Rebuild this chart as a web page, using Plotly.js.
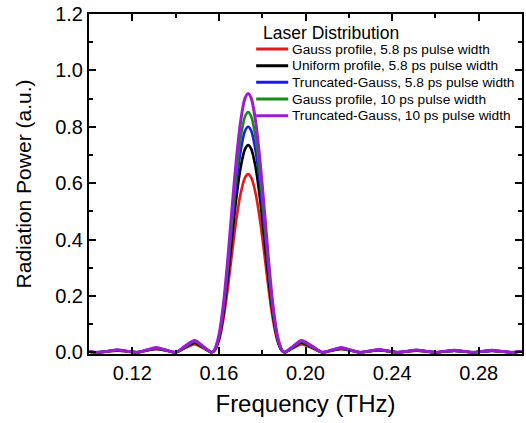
<!DOCTYPE html>
<html>
<head>
<meta charset="utf-8">
<script src="https://cdn.plot.ly/plotly-3.0.1.min.js"></script>
<style>html,body{margin:0;padding:0;background:#fff;}#chart{width:526px;height:423px;}</style>
</head>
<body>
<div id="chart"></div>
<script>
// Frequency samples (THz)
const freq = [
  0.100, 0.104, 0.1087, 0.113, 0.1176, 0.1222, 0.1266, 0.131, 0.1355, 0.140, 0.1444, 0.1488, 0.1527, 0.1566,
  0.158, 0.160, 0.162, 0.164, 0.166, 0.168, 0.170, 0.172, 0.1735, 0.175, 0.177, 0.179, 0.181, 0.183, 0.185, 0.187, 0.189,
  0.1904, 0.1943, 0.1982, 0.2030, 0.2078, 0.2122, 0.2165, 0.2208, 0.2252, 0.2296, 0.2339, 0.2382, 0.2426, 0.2470,
  0.2513, 0.2556, 0.2600, 0.2644, 0.2687, 0.2730, 0.2774, 0.2818, 0.2861, 0.2904, 0.2948, 0.300
];

const legendTitle = "Laser Distribution";
const seriesNames = [
  "Gauss profile, 5.8 ps pulse width",
  "Uniform profile, 5.8 ps pulse width",
  "Truncated-Gauss, 5.8 ps pulse width",
  "Gauss profile, 10 ps pulse width",
  "Truncated-Gauss, 10 ps pulse width"
];

const gauss58 = [
  0.002, 0, 0.003, 0.006, 0.003, 0, 0.006, 0.011, 0.006, 0, 0.015, 0.029, 0.015, 0,
  0.006, 0.041, 0.114, 0.221, 0.348, 0.468, 0.562, 0.619, 0.632, 0.619, 0.562, 0.468, 0.348, 0.221, 0.114, 0.041, 0.006,
  0, 0.015, 0.029, 0.015, 0, 0.006, 0.011, 0.006, 0, 0.003, 0.007, 0.003, 0, 0.003,
  0.006, 0.003, 0, 0.003, 0.005, 0.003, 0, 0.003, 0.005, 0.003, 0, 0.003
];
const uniform58 = [
  0.002, 0, 0.004, 0.007, 0.004, 0, 0.007, 0.013, 0.007, 0, 0.018, 0.034, 0.018, 0,
  0.007, 0.048, 0.132, 0.257, 0.404, 0.544, 0.654, 0.720, 0.735, 0.720, 0.654, 0.544, 0.404, 0.257, 0.132, 0.048, 0.007,
  0, 0.018, 0.034, 0.018, 0, 0.007, 0.013, 0.007, 0, 0.004, 0.008, 0.004, 0, 0.003,
  0.007, 0.003, 0, 0.003, 0.006, 0.003, 0, 0.003, 0.006, 0.003, 0, 0.003
];
const truncGauss58 = [
  0.002, 0, 0.004, 0.008, 0.004, 0, 0.007, 0.014, 0.007, 0, 0.019, 0.037, 0.019, 0,
  0.008, 0.052, 0.144, 0.280, 0.440, 0.592, 0.712, 0.784, 0.800, 0.784, 0.712, 0.592, 0.440, 0.280, 0.144, 0.052, 0.008,
  0, 0.019, 0.037, 0.019, 0, 0.007, 0.014, 0.007, 0, 0.004, 0.009, 0.004, 0, 0.004,
  0.007, 0.004, 0, 0.003, 0.006, 0.003, 0, 0.003, 0.006, 0.003, 0, 0.003
];
const gauss10 = [
  0.003, 0, 0.004, 0.008, 0.004, 0, 0.008, 0.015, 0.008, 0, 0.020, 0.039, 0.020, 0,
  0.009, 0.055, 0.153, 0.298, 0.469, 0.630, 0.758, 0.835, 0.852, 0.835, 0.758, 0.630, 0.469, 0.298, 0.153, 0.055, 0.009,
  0, 0.020, 0.039, 0.020, 0, 0.008, 0.015, 0.008, 0, 0.005, 0.009, 0.005, 0, 0.004,
  0.008, 0.004, 0, 0.003, 0.007, 0.003, 0, 0.003, 0.007, 0.003, 0, 0.003
];
const truncGauss10 = [
  0.003, 0, 0.004, 0.009, 0.004, 0, 0.008, 0.017, 0.008, 0, 0.022, 0.042, 0.022, 0,
  0.009, 0.060, 0.165, 0.321, 0.505, 0.679, 0.817, 0.900, 0.918, 0.900, 0.817, 0.679, 0.505, 0.321, 0.165, 0.060, 0.009,
  0, 0.022, 0.042, 0.022, 0, 0.008, 0.017, 0.008, 0, 0.005, 0.010, 0.005, 0, 0.004,
  0.008, 0.004, 0, 0.004, 0.007, 0.004, 0, 0.004, 0.007, 0.004, 0, 0.004
];

const xTickVals = [0.12, 0.16, 0.20, 0.24, 0.28];
const xTickText = ["0.12", "0.16", "0.20", "0.24", "0.28"];
const yTickVals = [0, 0.2, 0.4, 0.6, 0.8, 1.0, 1.2];
const yTickText = ["0.0", "0.2", "0.4", "0.6", "0.8", "1.0", "1.2"];

const allSeries = [gauss58, uniform58, truncGauss58, gauss10, truncGauss10];
const colors = ["#e41a1a", "#000000", "#1a1aee", "#1a8a1a", "#9a1ecf"];
const widths = [2.6, 2.6, 2.6, 2.6, 3];

const traces = allSeries.map((ys, i) => ({
  x: freq, y: ys, name: seriesNames[i], type: "scatter", mode: "lines",
  line: {color: colors[i], width: widths[i], shape: "spline", smoothing: 0.8}
}));

const font = "Liberation Sans, Arial, sans-serif";

// Compact legend (sample line + label per series), placed in paper coordinates
const legX0 = 0.386, legX1 = 0.460, legTextX = 0.465, legTop = 0.897, legStep = 0.049;
const shapes = seriesNames.map((n, i) => ({
  type: "line", xref: "paper", yref: "paper",
  x0: legX0, x1: legX1, y0: legTop - i * legStep, y1: legTop - i * legStep,
  line: {color: colors[i], width: 3}
}));
const annotations = [{
  text: legendTitle, xref: "paper", yref: "paper", x: 0.397, y: 0.944,
  xanchor: "left", yanchor: "middle", showarrow: false,
  font: {family: font, size: 17.5, color: "#000"}
}].concat(seriesNames.map((n, i) => ({
  text: n, xref: "paper", yref: "paper", x: legTextX, y: legTop - i * legStep,
  xanchor: "left", yanchor: "middle", showarrow: false,
  font: {family: font, size: 13.7, color: "#000"}
})));

const layout = {
  width: 526, height: 423,
  margin: {l: 89, r: 4, t: 14, b: 69},
  paper_bgcolor: "#fff", plot_bgcolor: "#fff",
  font: {family: font, color: "#000"},
  showlegend: false,
  shapes: shapes,
  annotations: annotations,
  xaxis: {
    range: [0.10, 0.30], tickmode: "array", tickvals: xTickVals, ticktext: xTickText,
    ticks: "inside", ticklen: 7, tickwidth: 2, tickcolor: "#000",
    minor: {dtick: 0.02, tick0: 0.10, ticks: "inside", ticklen: 4, tickwidth: 2, tickcolor: "#000"},
    showline: true, linecolor: "#000", linewidth: 2, mirror: "allticks",
    showgrid: false, zeroline: false,
    tickfont: {family: font, size: 20, color: "#000"},
    title: {text: "Frequency (THz)", font: {family: font, size: 24, color: "#000"}, standoff: 12}
  },
  yaxis: {
    range: [-0.006, 1.2], tickmode: "array", tickvals: yTickVals, ticktext: yTickText,
    ticks: "inside", ticklen: 7, tickwidth: 2, tickcolor: "#000",
    minor: {dtick: 0.1, tick0: 0, ticks: "inside", ticklen: 4, tickwidth: 2, tickcolor: "#000"},
    showline: true, linecolor: "#000", linewidth: 2, mirror: "allticks",
    showgrid: false, zeroline: false,
    tickfont: {family: font, size: 20, color: "#000"},
    title: {text: "Radiation Power (a.u.)", font: {family: font, size: 21, color: "#000"}, standoff: 18}
  }
};

Plotly.newPlot("chart", traces, layout, {staticPlot: true, displayModeBar: false});
</script>
</body>
</html>
